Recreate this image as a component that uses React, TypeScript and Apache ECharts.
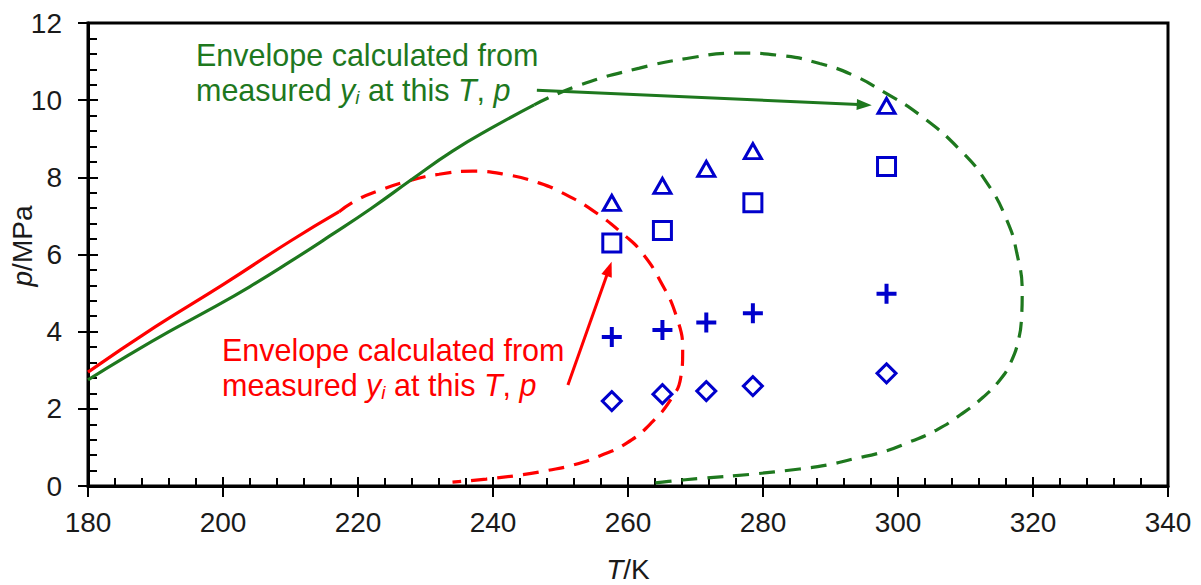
import React, { useEffect, useRef } from "react";
import * as echarts from "echarts";

// ---- data ----
const redSolidT = [180, 190, 200, 210, 217.2];
const redSolidP = [2.95, 4.13, 5.22, 6.35, 7.11];

const redEnvT = [217.2, 219.7, 223, 228, 232, 237, 242, 246.9, 250, 254.7, 259.8, 262.1, 264.7, 267.2, 268.1, 267.8, 266.6, 263.6, 259.8, 255.8, 251.8, 248, 243.9, 239, 234];
const redEnvP = [7.11, 7.4, 7.65, 7.93, 8.08, 8.16, 8.07, 7.85, 7.62, 7.15, 6.45, 6.04, 5.34, 4.38, 3.5, 2.8, 2.31, 1.66, 1.11, 0.78, 0.54, 0.4, 0.28, 0.18, 0.1];

const greenSolidT = [180, 186, 192, 198, 204, 210, 216, 222, 228, 234, 240, 246.1];
const greenSolidP = [2.75, 3.39, 4.0, 4.57, 5.17, 5.82, 6.5, 7.2, 7.95, 8.68, 9.3, 9.88];

const greenEnvT = [246.1, 252.8, 261.7, 268.7, 276, 283, 288.4, 293.3, 298, 303.2, 309.2, 313.2, 316.1, 317.6, 318.4, 318.3, 317.8, 316.7, 315.1, 312.6, 309.2, 305.7, 301.7, 297.7, 293.3, 289.4, 285.4, 278, 271, 266, 263];
const greenEnvP = [9.88, 10.39, 10.83, 11.08, 11.22, 11.15, 10.95, 10.65, 10.2, 9.62, 8.71, 7.85, 6.9, 6.04, 5.0, 4.35, 3.75, 3.2, 2.75, 2.3, 1.84, 1.45, 1.14, 0.88, 0.7, 0.54, 0.44, 0.3, 0.2, 0.12, 0.06];

const measT = [257.6, 265.1, 271.6, 278.5, 298.3];
const triP = [7.34, 7.78, 8.22, 8.68, 9.85];
const sqT = [257.6, 265.1, 278.5, 298.3];
const sqP = [6.3, 6.62, 7.34, 8.28];
const plusP = [3.86, 4.04, 4.24, 4.48, 4.98];
const diaP = [2.2, 2.38, 2.46, 2.59, 2.92];

const greenArrow = [[246.5, 10.26], [295.0, 9.88]];
const redArrow = [[251.1, 2.62], [257.2, 5.63]];

const xTicks = { min: 180, max: 340, interval: 20 };
const yTicks = { min: 0, max: 12, interval: 2 };

const FONT = "Arial, 'Liberation Sans', sans-serif";
const GREEN = "#1e781e";
const RED = "#ff0000";
const BLUE = "#0000cc";

const zip = (a: number[], b: number[]) => a.map((v, i) => [v, b[i]]);

export default function App() {
  const ref = useRef<HTMLDivElement>(null);
  useEffect(() => {
    if (!ref.current) return;
    const chart = echarts.init(ref.current, undefined, { renderer: "svg" });
    const tickLine = { color: "#000", width: 2 };
    const labelStyle = { fontSize: 28, color: "#1a1a1a", fontFamily: FONT };
    const richItalic = (size: number, color: string) => ({
      it: { fontStyle: "italic", fontSize: size, fontFamily: FONT, color, lineHeight: 35 },
      sub: { fontStyle: "italic", fontSize: 19, fontFamily: FONT, color, lineHeight: 20, verticalAlign: "bottom" },
      n: { fontSize: size, fontFamily: FONT, color, lineHeight: 35 },
    });
    const annText = "{n|Envelope calculated from}\n{n|measured }{it|y}{sub|i}{n| at this }{it|T}{n|, }{it|p}";
    const hollow = { color: "rgba(255,255,255,0)", borderColor: BLUE, borderWidth: 3, opacity: 1 };
    const dash = [16, 10];
    const option: any = {
      animation: false,
      backgroundColor: "#fff",
      grid: { left: 88, right: 33, top: 23, bottom: 99, show: true, borderColor: "#000", borderWidth: 3, backgroundColor: "transparent" },
      xAxis: [
        {
          type: "value", ...xTicks, position: "bottom",
          axisLine: { show: true, onZero: false, lineStyle: { color: "#000", width: 3 } },
          axisTick: { show: true, inside: false, length: 11, lineStyle: tickLine },
          axisLabel: { margin: 22, ...labelStyle },
          splitLine: { show: false },
        },
        {
          type: "value", ...xTicks, position: "bottom",
          axisLine: { show: false, onZero: false },
          axisTick: { show: true, inside: true, length: 9, lineStyle: tickLine },
          minorTick: { show: true, splitNumber: 5, length: 8, lineStyle: tickLine },
          axisLabel: { show: false },
          splitLine: { show: false },
        },
      ],
      yAxis: [
        {
          type: "value", ...yTicks, position: "left",
          axisLine: { show: true, onZero: false, lineStyle: { color: "#000", width: 3 } },
          axisTick: { show: true, inside: false, length: 10, lineStyle: tickLine },
          axisLabel: { margin: 26, ...labelStyle },
          splitLine: { show: false },
        },
        {
          type: "value", ...yTicks, position: "left",
          axisLine: { show: false, onZero: false },
          axisTick: { show: true, inside: true, length: 10, lineStyle: tickLine },
          minorTick: { show: true, splitNumber: 5, length: 9, lineStyle: tickLine },
          axisLabel: { show: false },
          splitLine: { show: false },
        },
      ],
      series: [
        { type: "line", data: zip(redSolidT, redSolidP), smooth: 0.5, showSymbol: false, lineStyle: { color: RED, width: 3.2 }, z: 2 },
        { type: "line", data: zip(redEnvT, redEnvP), smooth: 0.5, showSymbol: false, lineStyle: { color: RED, width: 3.2, type: dash }, z: 2 },
        { type: "line", data: zip(greenSolidT, greenSolidP), smooth: 0.5, showSymbol: false, lineStyle: { color: GREEN, width: 3.2 }, z: 2 },
        { type: "line", data: zip(greenEnvT, greenEnvP), smooth: 0.5, showSymbol: false, lineStyle: { color: GREEN, width: 3.2, type: dash }, z: 2 },
        {
          type: "scatter", data: zip(measT, triP), symbol: "triangle", symbolSize: [17, 15],
          itemStyle: hollow, z: 5,
          markLine: {
            silent: true, symbol: ["none", "triangle"], symbolSize: [11, 15], label: { show: false },
            lineStyle: { color: GREEN, width: 3, type: "solid", opacity: 1 },
            data: [[{ coord: greenArrow[0] }, { coord: greenArrow[1] }]],
          },
        },
        {
          type: "scatter", data: zip(sqT, sqP), symbol: "rect", symbolSize: 18,
          itemStyle: hollow, z: 5,
          markLine: {
            silent: true, symbol: ["none", "triangle"], symbolSize: [11, 15], label: { show: false },
            lineStyle: { color: RED, width: 3, type: "solid", opacity: 1 },
            data: [[{ coord: redArrow[0] }, { coord: redArrow[1] }]],
          },
        },
        {
          type: "scatter", data: zip(measT, plusP), symbol: "path://M8,0H12V8H20V12H12V20H8V12H0V8H8Z", symbolSize: 20,
          itemStyle: { color: BLUE, opacity: 1 }, z: 5,
        },
        {
          type: "scatter", data: zip(measT, diaP), symbol: "diamond", symbolSize: 19,
          itemStyle: hollow, z: 5,
        },
      ],
      graphic: [
        {
          type: "text", x: 196, y: 37, z: 10,
          style: { text: annText, rich: richItalic(30.5, GREEN), fill: GREEN, fontSize: 30.5, fontFamily: FONT, lineHeight: 35, align: "left", verticalAlign: "top" },
        },
        {
          type: "text", x: 222, y: 332, z: 10,
          style: { text: annText, rich: richItalic(30.5, RED), fill: RED, fontSize: 30.5, fontFamily: FONT, lineHeight: 35, align: "left", verticalAlign: "top" },
        },
        {
          type: "text", x: 628, y: 569, z: 10,
          style: {
            text: "{it|T}{n|/K}", fontSize: 28, fontFamily: FONT, fill: "#1a1a1a", align: "center", verticalAlign: "middle",
            rich: { it: { fontStyle: "italic", fontSize: 28, fontFamily: FONT, color: "#1a1a1a" }, n: { fontSize: 28, fontFamily: FONT, color: "#1a1a1a" } },
          },
        },
        {
          type: "text", x: 22, y: 246, rotation: Math.PI / 2, z: 10,
          style: {
            text: "{it|p}{n|/MPa}", fontSize: 28, fontFamily: FONT, fill: "#1a1a1a", align: "center", verticalAlign: "middle",
            rich: { it: { fontStyle: "italic", fontSize: 28, fontFamily: FONT, color: "#1a1a1a" }, n: { fontSize: 28, fontFamily: FONT, color: "#1a1a1a" } },
          },
        },
      ],
    };
    chart.setOption(option);
    return () => chart.dispose();
  }, []);
  return <div ref={ref} style={{ position: "fixed", left: 0, top: 0, width: 1201, height: 585, background: "#fff" }} />;
}
